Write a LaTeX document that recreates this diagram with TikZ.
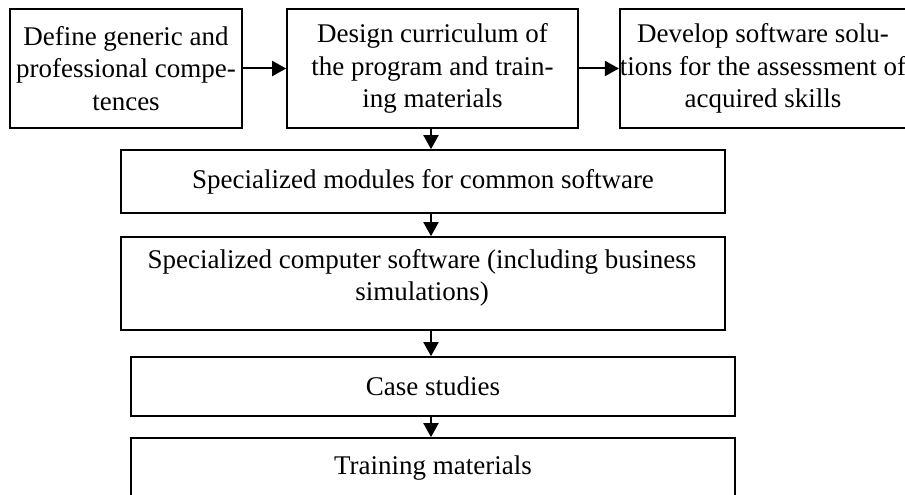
\documentclass[tikz,border=0pt]{standalone}
\usepackage{fontspec}
\setmainfont{Liberation Serif}
\usetikzlibrary{arrows.meta}
\begin{document}
\begin{tikzpicture}[x=1pt,y=-1pt,
  box/.style={draw,line width=1.7pt,rectangle,align=center,inner sep=0pt,
    font=\fontsize{27}{32.5}\selectfont},
  lbl/.style={align=center,inner sep=0pt,font=\fontsize{27}{32.5}\selectfont},
  arr/.style={line width=2pt,-{Triangle[length=14pt,width=15pt]}}]
\useasboundingbox (0,0) rectangle (905,495);
\node[box,minimum width=232pt,minimum height=119pt] (b1) at (126,68.5)
  {Define generic and\\professional compe-\\tences};
\node[box,minimum width=291pt,minimum height=119pt] (b2) at (432.5,68.5)
  {Design curriculum of\\the program and train-\\ing materials};
\node[box,minimum width=282pt,minimum height=119pt] (b3) at (763,68.5)
  {Develop software solu-\\tions for the assessment of\\acquired skills};
\node[box,minimum width=604pt,minimum height=63pt] (b4) at (423,181.5)
  {Specialized modules for common software};
\node[box,minimum width=604pt,minimum height=93pt] (b5) at (423,283.5) {};
\node[lbl] (b5t) at (422,278)
  {Specialized computer software (including business\\simulations)};
\node[box,minimum width=604pt,minimum height=59pt] (b6) at (433,386.5)
  {Case studies};
\node[box,minimum width=604pt,minimum height=60pt] (b7) at (433,468)
  {Training materials};
\draw[arr] (b1.east) -- (b2.west);
\draw[arr] (b2.east) -- (b3.west);
\draw[arr] (b2.south -| 431,0) -- (b4.north -| 431,0);
\draw[arr] (b4.south -| 431,0) -- (b5.north -| 431,0);
\draw[arr] (b5.south -| 431,0) -- (b6.north -| 431,0);
\draw[arr] (b6.south -| 431,0) -- (b7.north -| 431,0);
\end{tikzpicture}
\end{document}
